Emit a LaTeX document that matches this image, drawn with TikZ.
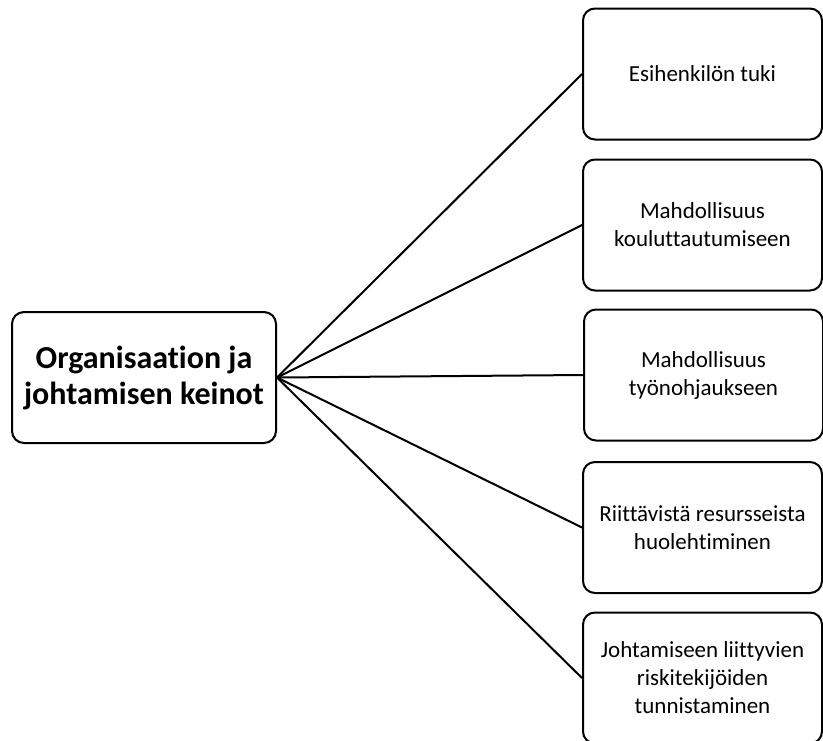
\documentclass[tikz,border=0pt]{standalone}
\usepackage{fontspec}
\setmainfont{Carlito}[Ligatures=NoCommon]

\begin{document}
\begin{tikzpicture}[x=1pt,y=-1pt,line width=2pt,cap=round,
    box/.style={draw, rounded corners=12pt, align=center,
        minimum width=239pt, minimum height=131pt,
        font=\fontsize{23}{28}\selectfont}]
            \useasboundingbox (0,0) rectangle (823,740);

            % main node
            \node[box, minimum width=264pt, font=\bfseries\fontsize{32}{36}\selectfont]
                (keinot) at (144,377.5) {Organisaation ja\\johtamisen keinot};

            % the five means
            \node[box] (tuki) at (702.5,74) {Esihenkilön tuki};
            \node[box] (koulutus) at (702.5,225) {Mahdollisuus\\kouluttautumiseen};
            \node[box] (ohjaus) at (703.5,375) {Mahdollisuus\\työnohjaukseen};
            \node[box] (resurssit) at (702.5,527.5) {Riittävistä resursseista\\huolehtiminen};
            \node[box] (riskit) at (702.5,678) {Johtamiseen liittyvien\\riskitekijöiden\\tunnistaminen};

            % lines from the main node
            \foreach \n in {tuki,koulutus,ohjaus,resurssit,riskit}
                \draw (keinot.east) -- (\n.west);

        \end{tikzpicture}
\end{document}
